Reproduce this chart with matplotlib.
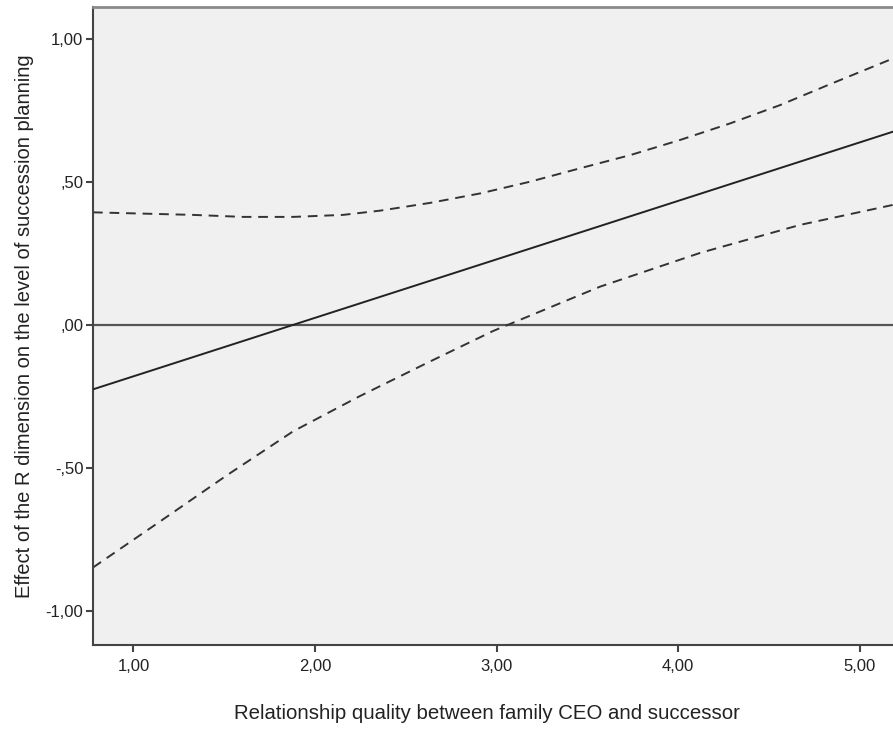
import matplotlib
matplotlib.use("Agg")
import matplotlib.pyplot as plt

# values
x_fit = [0.777, 5.184]
y_fit = [-0.225, 0.676]

x_upper = [0.777, 1.328, 1.603, 1.879, 2.154, 2.360, 2.634, 2.909, 3.184,
           3.460, 3.736, 4.011, 4.287, 4.562, 4.837, 5.184]
y_upper = [0.394, 0.385, 0.378, 0.378, 0.385, 0.400, 0.427, 0.460, 0.501,
           0.548, 0.594, 0.647, 0.705, 0.769, 0.842, 0.932]

x_lower = [0.777, 1.144, 1.511, 1.879, 2.246, 2.613, 2.981, 3.570, 4.121, 4.672, 5.184]
y_lower = [-0.848, -0.688, -0.527, -0.372, -0.249, -0.134, -0.021, 0.134, 0.252, 0.350, 0.420]

xticks = [1, 2, 3, 4, 5]
xtick_labels = ["1,00", "2,00", "3,00", "4,00", "5,00"]
yticks = [-1, -0.5, 0, 0.5, 1]
ytick_labels = ["-1,00", "-,50", ",00", ",50", "1,00"]

plt.rcParams["font.family"] = ["Liberation Sans", "DejaVu Sans"]

fig = plt.figure(figsize=(8.93, 7.31), dpi=100)
ax = fig.add_axes([93 / 893, 1 - 645 / 731, 1 - 93 / 893, (645 - 7) / 731])
ax.set_facecolor("#f0f0f0")

ax.axhline(0, color="#555555", lw=1.6, zorder=1)
ax.plot(x_fit, y_fit, color="#222222", lw=1.4, zorder=3)
ax.plot(x_upper, y_upper, color="#333333", lw=1.4, ls=(0, (5, 3.5)), zorder=2)
ax.plot(x_lower, y_lower, color="#333333", lw=1.4, ls=(0, (5, 3.5)), zorder=2)

ax.set_xlim(0.777, 5.184)
ax.set_ylim(-1.119, 1.112)
ax.set_xticks(xticks)
ax.set_xticklabels(xtick_labels)
ax.set_yticks(yticks)
ax.set_yticklabels(ytick_labels)
ax.tick_params(direction="out", length=5, width=1.5, color="#444444",
               labelsize=12, labelcolor="#222222")
ax.tick_params(axis="x", pad=5)
ax.tick_params(axis="y", pad=2)

ax.spines["right"].set_visible(False)
ax.spines["top"].set_color("#8a8a8a")
ax.spines["top"].set_linewidth(2)
for s in ["left", "bottom"]:
    ax.spines[s].set_color("#444444")
    ax.spines[s].set_linewidth(1.5)

ax.set_xlabel("Relationship quality between family CEO and successor",
              fontsize=14.7, color="#222222", va="top")
ax.xaxis.set_label_coords(0.4925, -0.093)
ax.set_ylabel("Effect of the R dimension on the level of succession planning",
              fontsize=14.5, color="#222222")
ax.yaxis.set_label_coords(-0.074, 0.5)

fig.savefig("out.png", dpi=100, facecolor="white")
